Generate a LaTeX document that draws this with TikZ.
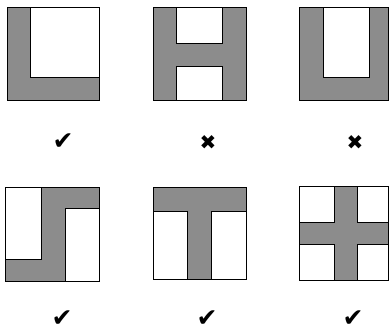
\documentclass[tikz,border=0pt]{standalone}
\usepackage{fontspec}
\newfontfamily\symfont{DejaVu Sans}
\definecolor{shade}{RGB}{140,140,140}
\begin{document}
\begin{tikzpicture}[x=1pt,y=-1pt,
  outer/.style={fill=shade,draw=black,line width=0.8pt},
  hole/.style={fill=white,draw=black,line width=0.8pt},
  yes/.style={font=\symfont\fontsize{25}{25}\selectfont,inner sep=0pt},
  no/.style={font=\symfont\fontsize{20}{20}\selectfont,inner sep=0pt}]
\useasboundingbox (0,0) rectangle (389,332);
% box 1: L
\filldraw[outer] (7,7) rectangle (99,100);
\filldraw[hole] (30,7) -- (30,77) -- (99,77) -- (99,7) -- cycle;
\draw[line width=0.8pt] (7,7) rectangle (99,100);
% box 2: H
\filldraw[outer] (153,7) rectangle (246,100);
\filldraw[hole] (176,7) rectangle (222,43);
\filldraw[hole] (176,66) rectangle (222,100);
\draw[line width=0.8pt] (153,7) rectangle (246,100);
% box 3: U
\filldraw[outer] (299,7) rectangle (388,100);
\filldraw[hole] (323,7) rectangle (369,77);
\draw[line width=0.8pt] (299,7) rectangle (388,100);
% box 4
\filldraw[outer] (5,187) rectangle (99,281);
\filldraw[hole] (5,187) rectangle (41,259);
\filldraw[hole] (65,208) rectangle (99,281);
\draw[line width=0.8pt] (5,187) rectangle (99,281);
% box 5: T
\filldraw[outer] (153,187) rectangle (246,279);
\filldraw[hole] (153,211) rectangle (187,279);
\filldraw[hole] (211,211) rectangle (246,279);
\draw[line width=0.8pt] (153,187) rectangle (246,279);
% box 6: cross
\filldraw[outer] (299,186) rectangle (388.5,280);
\filldraw[hole] (299,186) rectangle (334,222);
\filldraw[hole] (357,186) rectangle (388.5,222);
\filldraw[hole] (299,244) rectangle (334,280);
\filldraw[hole] (357,244) rectangle (388.5,280);
\draw[line width=0.8pt] (299,186) rectangle (388.5,280);
% marks
\node[yes] (m1) at (63,142) {✔};
\node[no]  (m2) at (208,143) {✖};
\node[no]  (m3) at (355,143) {✖};
\node[yes] (m4) at (62,319) {✔};
\node[yes] (m5) at (207,319) {✔};
\node[yes] (m6) at (353,319) {✔};
\end{tikzpicture}
\end{document}
